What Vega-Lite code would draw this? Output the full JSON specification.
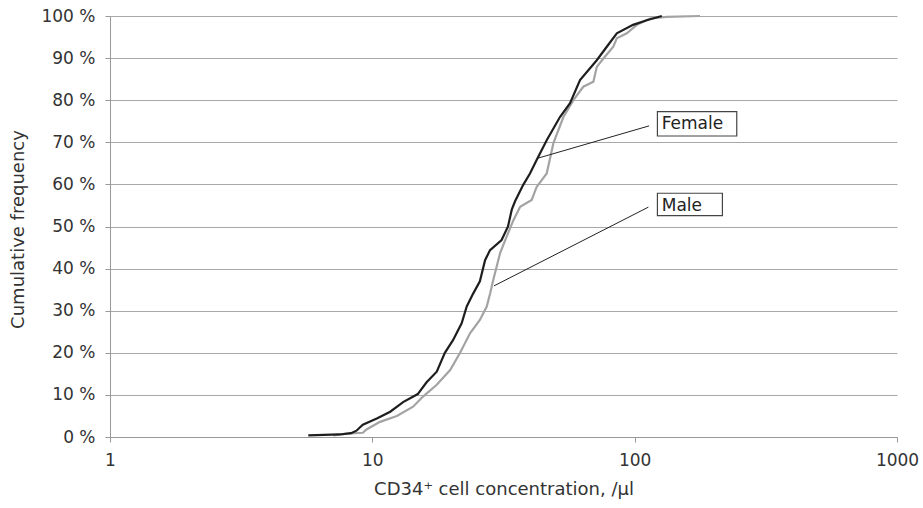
{
  "$schema": "https://vega.github.io/schema/vega-lite/v6.json",
  "width": 787,
  "height": 421,
  "autosize": "none",
  "padding": {"left": 110, "top": 16, "right": 26, "bottom": 71},
  "config": {"view": {"stroke": null}, "font": "DejaVu Sans"},
  "datasets": {
    "female": [
      {"x": 5.7, "y": 0.4}, {"x": 7.5, "y": 0.6}, {"x": 8.3, "y": 0.9}, {"x": 8.7, "y": 1.5},
      {"x": 9.2, "y": 2.9}, {"x": 10.4, "y": 4.4}, {"x": 11.7, "y": 6.0}, {"x": 13.1, "y": 8.3},
      {"x": 14.9, "y": 10.2}, {"x": 16.1, "y": 13.0}, {"x": 17.6, "y": 15.5}, {"x": 18.9, "y": 20.0},
      {"x": 20.3, "y": 23.0}, {"x": 21.9, "y": 27.0}, {"x": 22.9, "y": 31.0}, {"x": 24.2, "y": 34.0},
      {"x": 25.7, "y": 37.0}, {"x": 26.9, "y": 42.0}, {"x": 28.1, "y": 44.4}, {"x": 31.1, "y": 46.8},
      {"x": 32.9, "y": 50.0}, {"x": 34.0, "y": 54.0}, {"x": 35.0, "y": 56.0}, {"x": 37.6, "y": 59.9},
      {"x": 39.9, "y": 62.6}, {"x": 42.3, "y": 65.8}, {"x": 46.2, "y": 70.5}, {"x": 51.9, "y": 76.0},
      {"x": 56.7, "y": 79.3}, {"x": 61.9, "y": 84.8}, {"x": 71.7, "y": 89.5}, {"x": 78.3, "y": 92.7},
      {"x": 85.5, "y": 95.9}, {"x": 98.6, "y": 97.9}, {"x": 111.2, "y": 99.0}, {"x": 126.9, "y": 100}
    ],
    "male": [
      {"x": 7.1, "y": 0.4}, {"x": 8.0, "y": 0.8}, {"x": 9.2, "y": 1.0}, {"x": 9.5, "y": 1.8},
      {"x": 10.7, "y": 3.6}, {"x": 12.4, "y": 5.0}, {"x": 14.3, "y": 7.2}, {"x": 15.6, "y": 9.6},
      {"x": 17.6, "y": 12.4}, {"x": 19.8, "y": 15.9}, {"x": 21.6, "y": 20.0}, {"x": 23.6, "y": 24.7},
      {"x": 25.7, "y": 27.8}, {"x": 27.3, "y": 31.0}, {"x": 28.1, "y": 34.0}, {"x": 28.9, "y": 37.3},
      {"x": 30.7, "y": 43.7}, {"x": 32.5, "y": 47.6}, {"x": 34.5, "y": 51.5}, {"x": 36.6, "y": 54.7},
      {"x": 40.5, "y": 56.3}, {"x": 42.3, "y": 59.4}, {"x": 46.2, "y": 62.6}, {"x": 49.0, "y": 69.8},
      {"x": 53.5, "y": 76.0}, {"x": 58.4, "y": 80.0}, {"x": 63.7, "y": 83.2}, {"x": 69.6, "y": 84.4},
      {"x": 71.7, "y": 87.9}, {"x": 76.0, "y": 89.9}, {"x": 82.9, "y": 92.7}, {"x": 85.5, "y": 94.7},
      {"x": 93.3, "y": 95.9}, {"x": 101.9, "y": 97.9}, {"x": 114.5, "y": 99.4}, {"x": 132.6, "y": 99.8},
      {"x": 177.5, "y": 100}
    ],
    "leaders": [
      {"x": 113.5, "y": 73.9, "x2": 42.6, "y2": 66.2},
      {"x": 112.8, "y": 54.6, "x2": 29.1, "y2": 35.9}
    ],
    "boxes": [
      {"x": 122.1, "x2": 245.0, "y": 71.5, "y2": 77.3},
      {"x": 122.1, "x2": 216.0, "y": 52.6, "y2": 57.9}
    ],
    "labels": [
      {"x": 126.8, "y": 74.3, "t": "Female"},
      {"x": 126.8, "y": 54.9, "t": "Male"}
    ]
  },
  "encoding": {
    "x": {
      "field": "x", "type": "quantitative",
      "scale": {"type": "log", "domain": [1, 1000], "nice": false},
      "axis": {
        "values": [1, 10, 100, 1000], "format": "d", "grid": false,
        "title": "CD34⁺ cell concentration, /µl",
        "domainColor": "#999999", "tickColor": "#999999", "tickSize": 5,
        "labelFontSize": 17, "labelColor": "#333333", "labelPadding": 10,
        "labelFlush": false, "labelOverlap": false,
        "titleFontSize": 18, "titleFontWeight": "normal", "titleColor": "#333333", "titlePadding": 12
      }
    },
    "y": {
      "field": "y", "type": "quantitative",
      "scale": {"domain": [0, 100], "nice": false},
      "axis": {
        "values": [0, 10, 20, 30, 40, 50, 60, 70, 80, 90, 100],
        "labelExpr": "datum.value + ' %'",
        "grid": true, "gridColor": "#a8a8a8", "gridWidth": 1,
        "domainColor": "#999999", "tickColor": "#999999", "tickSize": 5,
        "labelFontSize": 17, "labelColor": "#333333", "labelPadding": 10,
        "title": "Cumulative frequency",
        "titleFontSize": 18, "titleFontWeight": "normal", "titleColor": "#333333",
        "titleX": -92, "titleY": 213, "titleBaseline": "middle"
      }
    }
  },
  "layer": [
    {"data": {"name": "male"}, "mark": {"type": "line", "color": "#a3a3a3", "strokeWidth": 2.2}},
    {"data": {"name": "female"}, "mark": {"type": "line", "color": "#1e1e1e", "strokeWidth": 2.2}},
    {"data": {"name": "leaders"}, "mark": {"type": "rule", "color": "#222222", "strokeWidth": 1},
     "encoding": {"x2": {"field": "x2"}, "y2": {"field": "y2"}}},
    {"data": {"name": "boxes"}, "mark": {"type": "rect", "fill": "white", "stroke": "#444444", "strokeWidth": 1.2},
     "encoding": {"x2": {"field": "x2"}, "y2": {"field": "y2"}}},
    {"data": {"name": "labels"}, "mark": {"type": "text", "align": "left", "baseline": "middle", "fontSize": 17, "color": "#222222"},
     "encoding": {"text": {"field": "t"}}}
  ]
}
